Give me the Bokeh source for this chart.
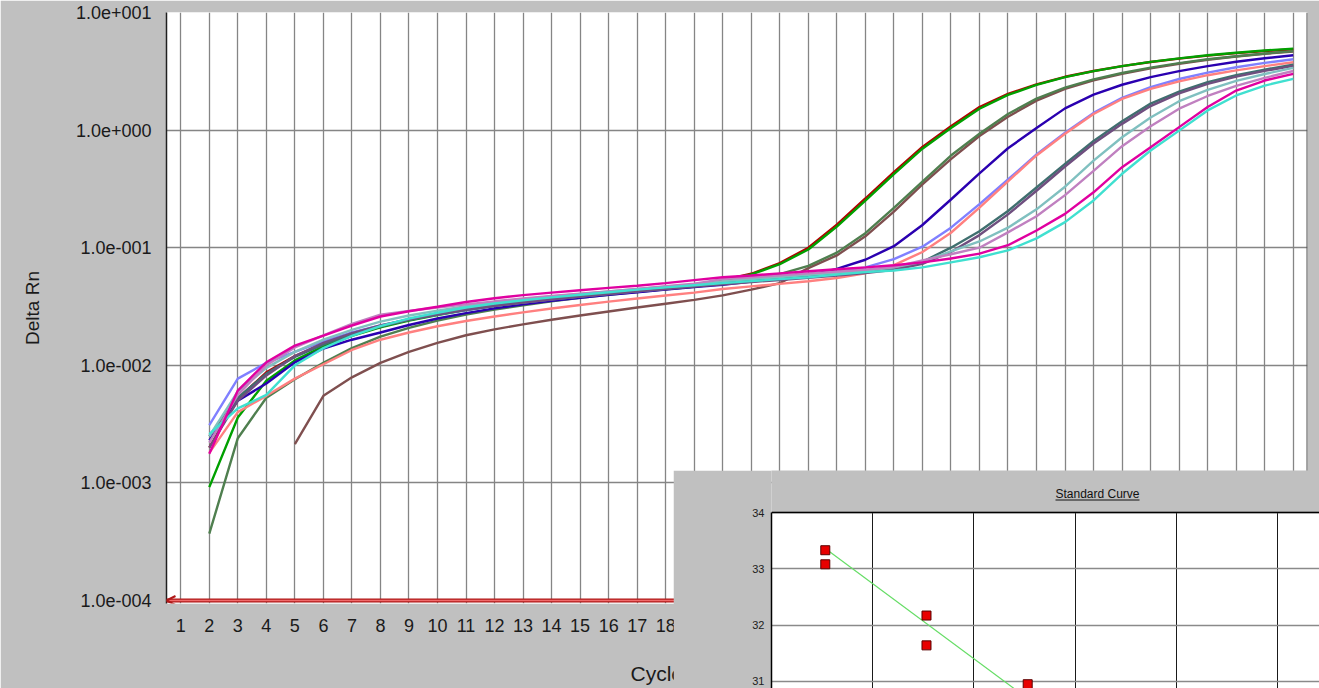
from bokeh.plotting import figure
from bokeh.models import (Range1d, FixedTicker, Label, Span, Arrow, OpenHead, Title,
                          BoxAnnotation, Grid)
from bokeh.embed import file_html
from bokeh.resources import INLINE

# ---------------- data ----------------
cycles = list(range(2, 41))
brown_cycles = list(range(5, 41))

red = [2.0e-3, 5.2e-3, 8.7e-3, 1.2e-2, 1.52e-2, 1.84e-2, 2.15e-2, 2.45e-2, 2.72e-2, 2.98e-2,
       3.22e-2, 3.45e-2, 3.67e-2, 3.88e-2, 4.08e-2, 4.28e-2, 4.48e-2, 4.75e-2, 5.3e-2, 6.0e-2,
       7.4e-2, 0.1, 0.157, 0.262, 0.44, 0.72, 1.08, 1.57, 2.03, 2.45,
       2.84, 3.18, 3.5, 3.79, 4.05, 4.3, 4.51, 4.7, 4.87]
green = [9.2e-4, 3.6e-3, 7.4e-3, 1.1e-2, 1.45e-2, 1.78e-2, 2.1e-2, 2.4e-2, 2.68e-2, 2.95e-2,
         3.2e-2, 3.43e-2, 3.65e-2, 3.86e-2, 4.06e-2, 4.26e-2, 4.46e-2, 4.8e-2, 5.25e-2, 5.92e-2,
         7.24e-2, 9.66e-2, 0.151, 0.251, 0.423, 0.695, 1.04, 1.52, 1.99, 2.42,
         2.82, 3.17, 3.5, 3.8, 4.07, 4.33, 4.55, 4.75, 4.93]
gray_green = [3.7e-4, 2.4e-3, 5.3e-3, 7.6e-3, 1.05e-2, 1.4e-2, 1.75e-2, 2.08e-2, 2.4e-2, 2.7e-2,
              2.98e-2, 3.24e-2, 3.5e-2, 3.74e-2, 3.97e-2, 4.2e-2, 4.42e-2, 4.64e-2, 5.08e-2, 5.42e-2,
              5.96e-2, 7.01e-2, 9.08e-2, 0.133, 0.218, 0.365, 0.608, 0.93, 1.37, 1.85,
              2.3, 2.7, 3.06, 3.4, 3.71, 4.0, 4.25, 4.48, 4.69]
brown = [2.14e-3, 5.5e-3, 7.9e-3, 1.05e-2, 1.3e-2, 1.55e-2, 1.8e-2, 2.02e-2, 2.23e-2, 2.44e-2,
         2.65e-2, 2.87e-2, 3.1e-2, 3.34e-2, 3.6e-2, 3.93e-2, 4.4e-2, 5.0e-2, 6.7e-2, 8.6e-2,
         0.125, 0.203, 0.345, 0.567, 0.89, 1.3, 1.78, 2.24, 2.65, 3.01,
         3.35, 3.67, 3.96, 4.22, 4.45, 4.66]
blue = [2.3e-3, 5.0e-3, 7.0e-3, 1.06e-2, 1.39e-2, 1.65e-2, 1.9e-2, 2.2e-2, 2.5e-2, 2.78e-2,
        3.05e-2, 3.3e-2, 3.53e-2, 3.75e-2, 3.97e-2, 4.18e-2, 4.4e-2, 4.62e-2, 4.84e-2, 5.16e-2,
        5.44e-2, 5.81e-2, 6.6e-2, 7.9e-2, 0.103, 0.156, 0.257, 0.429, 0.701, 1.04,
        1.53, 2.0, 2.43, 2.82, 3.17, 3.5, 3.81, 4.08, 4.33]
light_purple = [3.1e-3, 7.7e-3, 1.05e-2, 1.3e-2, 1.6e-2, 1.9e-2, 2.18e-2, 2.45e-2, 2.7e-2, 2.95e-2,
                3.2e-2, 3.42e-2, 3.64e-2, 3.85e-2, 4.05e-2, 4.26e-2, 4.47e-2, 4.9e-2, 5.1e-2, 5.34e-2,
                5.58e-2, 5.85e-2, 6.2e-2, 6.8e-2, 8.0e-2, 0.102, 0.148, 0.235, 0.38, 0.62,
                0.95, 1.4, 1.88, 2.32, 2.72, 3.08, 3.42, 3.73, 4.0]
salmon = [1.8e-3, 4.0e-3, 5.5e-3, 7.7e-3, 1.02e-2, 1.35e-2, 1.65e-2, 1.9e-2, 2.15e-2, 2.38e-2,
          2.6e-2, 2.82e-2, 3.04e-2, 3.26e-2, 3.48e-2, 3.7e-2, 3.92e-2, 4.15e-2, 4.45e-2, 4.69e-2,
          4.92e-2, 5.19e-2, 5.52e-2, 6.07e-2, 7.12e-2, 9.19e-2, 0.134, 0.219, 0.367, 0.609,
          0.931, 1.37, 1.84, 2.24, 2.6, 2.93, 3.22, 3.5, 3.78]
dark_slate = [2.5e-3, 5.3e-3, 8.5e-3, 1.18e-2, 1.5e-2, 1.82e-2, 2.13e-2, 2.43e-2, 2.7e-2, 2.96e-2,
              3.2e-2, 3.43e-2, 3.65e-2, 3.86e-2, 4.07e-2, 4.28e-2, 4.5e-2, 4.73e-2, 4.98e-2, 5.22e-2,
              5.44e-2, 5.68e-2, 5.93e-2, 6.23e-2, 6.67e-2, 7.6e-2, 0.1, 0.138, 0.205, 0.325,
              0.516, 0.808, 1.19, 1.68, 2.12, 2.56, 2.93, 3.27, 3.6]
purple = [2.0e-3, 5.0e-3, 8.2e-3, 1.2e-2, 1.55e-2, 1.88e-2, 2.18e-2, 2.46e-2, 2.72e-2, 2.97e-2,
          3.2e-2, 3.42e-2, 3.63e-2, 3.84e-2, 4.04e-2, 4.25e-2, 4.46e-2, 4.67e-2, 4.88e-2, 5.1e-2,
          5.32e-2, 5.55e-2, 5.8e-2, 6.1e-2, 6.5e-2, 7.3e-2, 9.2e-2, 0.128, 0.192, 0.305,
          0.49, 0.77, 1.13, 1.6, 2.05, 2.47, 2.85, 3.19, 3.52]
teal_light = [2.5e-3, 6.0e-3, 9.5e-3, 1.3e-2, 1.65e-2, 2.0e-2, 2.35e-2, 2.65e-2, 2.92e-2, 3.18e-2,
              3.42e-2, 3.64e-2, 3.85e-2, 4.05e-2, 4.25e-2, 4.45e-2, 4.65e-2, 4.85e-2, 5.2e-2, 5.42e-2,
              5.64e-2, 5.87e-2, 6.11e-2, 6.37e-2, 6.8e-2, 7.6e-2, 9.3e-2, 0.113, 0.148, 0.212,
              0.33, 0.55, 0.87, 1.28, 1.76, 2.2, 2.62, 3.0, 3.38]
lilac = [2.2e-3, 5.6e-3, 1.0e-2, 1.42e-2, 1.8e-2, 2.25e-2, 2.7e-2, 2.9e-2, 3.1e-2, 3.3e-2,
         3.5e-2, 3.7e-2, 3.88e-2, 4.06e-2, 4.25e-2, 4.45e-2, 4.7e-2, 4.95e-2, 5.4e-2, 5.6e-2,
         5.82e-2, 6.05e-2, 6.28e-2, 6.5e-2, 6.85e-2, 7.8e-2, 8.8e-2, 0.1, 0.135, 0.185,
         0.28, 0.45, 0.73, 1.08, 1.52, 1.95, 2.38, 2.78, 3.18]
cyan = [2.6e-3, 4.3e-3, 5.6e-3, 1.0e-2, 1.4e-2, 1.78e-2, 2.15e-2, 2.5e-2, 2.8e-2, 3.1e-2,
        3.35e-2, 3.57e-2, 3.78e-2, 3.98e-2, 4.18e-2, 4.4e-2, 4.6e-2, 4.8e-2, 5.0e-2, 5.2e-2,
        5.4e-2, 5.6e-2, 5.9e-2, 6.2e-2, 6.4e-2, 6.8e-2, 7.5e-2, 8.3e-2, 9.5e-2, 0.12,
        0.165, 0.252, 0.425, 0.67, 0.99, 1.47, 1.97, 2.39, 2.73]
magenta = [1.77e-3, 6.1e-3, 1.06e-2, 1.47e-2, 1.79e-2, 2.18e-2, 2.6e-2, 2.88e-2, 3.15e-2, 3.45e-2,
           3.72e-2, 3.95e-2, 4.15e-2, 4.35e-2, 4.55e-2, 4.75e-2, 5.0e-2, 5.3e-2, 5.6e-2, 5.8e-2,
           6.05e-2, 6.3e-2, 6.55e-2, 6.8e-2, 7.1e-2, 7.5e-2, 8.1e-2, 8.9e-2, 0.105, 0.14,
           0.194, 0.296, 0.484, 0.716, 1.06, 1.57, 2.17, 2.64, 3.01]

threshold = 1.0e-4
x_ticks = list(range(1, 41))
y_ticks = [1e-4, 1e-3, 1e-2, 1e-1, 1e0, 1e1]
y_tick_labels = ["1.0e-004", "1.0e-003", "1.0e-002", "1.0e-001", "1.0e+000", "1.0e+001"]

# standard curve inset
std_quantity = [3.4, 3.4, 34, 34, 340]
std_ct = [33.33, 33.08, 32.17, 31.64, 30.95]
fit_quantity = [3.4, 260000]
fit_ct = [33.36, 26.85]
std_y_ticks = [31, 32, 33, 34]
std_x_grid = [10, 100, 1000, 10000, 100000]
std_ct_top = 34

# ---------------- main amplification plot ----------------
FONT = "Liberation Sans"
p = figure(width=1319, height=688, y_axis_type="log",
           x_range=Range1d(0.5, 40.5), y_range=Range1d(9.43e-5, 10.0),
           output_backend="svg", toolbar_location=None, title=None,
           min_border_left=166, min_border_right=12, min_border_top=12, min_border_bottom=85,
           background_fill_color="white", border_fill_color="#c0c0c0",
           outline_line_color=None)

p.xaxis.ticker = FixedTicker(ticks=x_ticks)
p.yaxis.ticker = FixedTicker(ticks=y_ticks)
p.yaxis.major_label_overrides = dict(zip(y_ticks, y_tick_labels))
p.xgrid.ticker = FixedTicker(ticks=x_ticks)
p.ygrid.ticker = FixedTicker(ticks=y_ticks)
for g in (p.xgrid, p.ygrid):
    g.grid_line_color = "#858585"
    g.grid_line_width = 1.3

for ax in (p.xaxis, p.yaxis):
    ax.major_tick_out = 0
    ax.major_tick_in = 0
    ax.minor_tick_out = 0
    ax.minor_tick_in = 0
    ax.major_label_text_font = FONT
    ax.major_label_text_font_size = "18px"
    ax.major_label_text_color = "#1a1a1a"
p.xaxis.axis_line_color = None
p.xaxis.major_label_standoff = 15
p.yaxis.axis_line_color = "#202020"
p.yaxis.axis_line_width = 1.5
p.yaxis.major_label_standoff = 15
p.yaxis.axis_label = "Delta Rn"
p.yaxis.axis_label_text_font = FONT
p.yaxis.axis_label_text_font_size = "19px"
p.yaxis.axis_label_text_font_style = "normal"
p.yaxis.axis_label_text_color = "#1a1a1a"
p.yaxis.axis_label_standoff = 30

p.add_layout(Title(text="\nCycle Number", align="left", offset=464, standoff=0,
                   text_font=FONT, text_font_size="21px", text_font_style="normal",
                   text_line_height=1.15, text_color="#1a1a1a"), "below")

series = [
    (red, "#b00000"), (green, "#00a000"), (gray_green, "#4f7f4f"),
    (blue, "#2a00b0"), (light_purple, "#8080ff"), (salmon, "#ff8080"),
    (dark_slate, "#3f6f6f"), (purple, "#6f4f7f"), (teal_light, "#80c0c0"),
    (lilac, "#c080c0"), (cyan, "#40e0d0"), (magenta, "#e000a0"),
]
p.line(brown_cycles, brown, line_color="#7f4f4f", line_width=2.4)
for vals, col in series:
    p.line(cycles, vals, line_color=col, line_width=2.4)

# threshold line with arrow head
p.add_layout(Span(location=threshold, dimension="width", line_color="#b01818", line_width=4))
p.add_layout(Span(location=threshold, dimension="width", line_color="#f06a6a", line_width=1.5))
p.add_layout(Arrow(end=OpenHead(size=9, line_color="#b01818", line_width=2),
                   x_start=p.x_range.end, y_start=threshold,
                   x_end=p.x_range.start, y_end=threshold, line_alpha=0))
# right border
p.add_layout(Span(location=p.x_range.end, dimension="height", line_color="#505050", line_width=2))

# ---------------- standard curve inset ----------------
inset = figure(width=646, height=218, x_axis_type="log",
               x_range=Range1d(1, 260000), y_range=Range1d(30.874, 34.746),
               output_backend="svg", toolbar_location=None, title=None,
               min_border_left=98, min_border_right=0, min_border_top=0, min_border_bottom=0,
               background_fill_color="#c0c0c0", border_fill_color="#c0c0c0",
               outline_line_color=None,
               styles={"position": "absolute", "left": "673px", "top": "470px", "z-index": "10"})
inset.xaxis.visible = False
inset.add_layout(BoxAnnotation(top=std_ct_top, fill_color="white", fill_alpha=1.0,
                               line_color=None, level="image"))
inset.yaxis.ticker = FixedTicker(ticks=std_y_ticks)
inset.yaxis.bounds = (inset.y_range.start, std_ct_top)
inset.yaxis.major_tick_out = 0
inset.yaxis.major_tick_in = 0
inset.yaxis.minor_tick_out = 0
inset.yaxis.minor_tick_in = 0
inset.yaxis.axis_line_color = "black"
inset.yaxis.axis_line_width = 1.5
inset.yaxis.major_label_standoff = 7
inset.yaxis.major_label_text_font = FONT
inset.yaxis.major_label_text_font_size = "11px"
inset.yaxis.major_label_text_color = "#202020"
inset.ygrid.ticker = FixedTicker(ticks=std_y_ticks)
inset.ygrid.grid_line_color = "#8a8a8a"
inset.ygrid.grid_line_width = 1.5
if "cross_bounds" in Grid.properties():
    inset.xgrid.ticker = FixedTicker(ticks=std_x_grid)
    inset.xgrid.cross_bounds = (inset.y_range.start, std_ct_top)
    inset.xgrid.grid_line_color = "#1a1a1a"
    inset.xgrid.grid_line_width = 1
else:
    inset.xgrid.visible = False
    inset.segment(x0=std_x_grid, y0=[inset.y_range.start] * len(std_x_grid),
                  x1=std_x_grid, y1=[std_ct_top] * len(std_x_grid),
                  line_color="#1a1a1a", line_width=1, level="underlay")
inset.add_layout(Span(location=std_ct_top, dimension="width", line_color="black", line_width=1.5))

inset.line(fit_quantity, fit_ct, line_color="#66dd66", line_width=1.2)
inset.scatter(std_quantity, std_ct, marker="square", size=9,
              fill_color="#e80000", line_color="#5a0000", line_width=1)

inset.add_layout(Label(x=326, y=195, x_units="screen", y_units="screen", text="Standard Curve",
                       text_font=FONT, text_font_size="12px", text_color="#111111",
                       text_baseline="middle", text_align="center"))
inset.add_layout(Arrow(start=None, end=None, x_start=284, y_start=188.5, x_end=368, y_end=188.5,
                       start_units="screen", end_units="screen",
                       line_color="#111111", line_width=1))

html = file_html([p, inset], INLINE, title="Amplification Plot")
open("out.html", "w").write(html)
